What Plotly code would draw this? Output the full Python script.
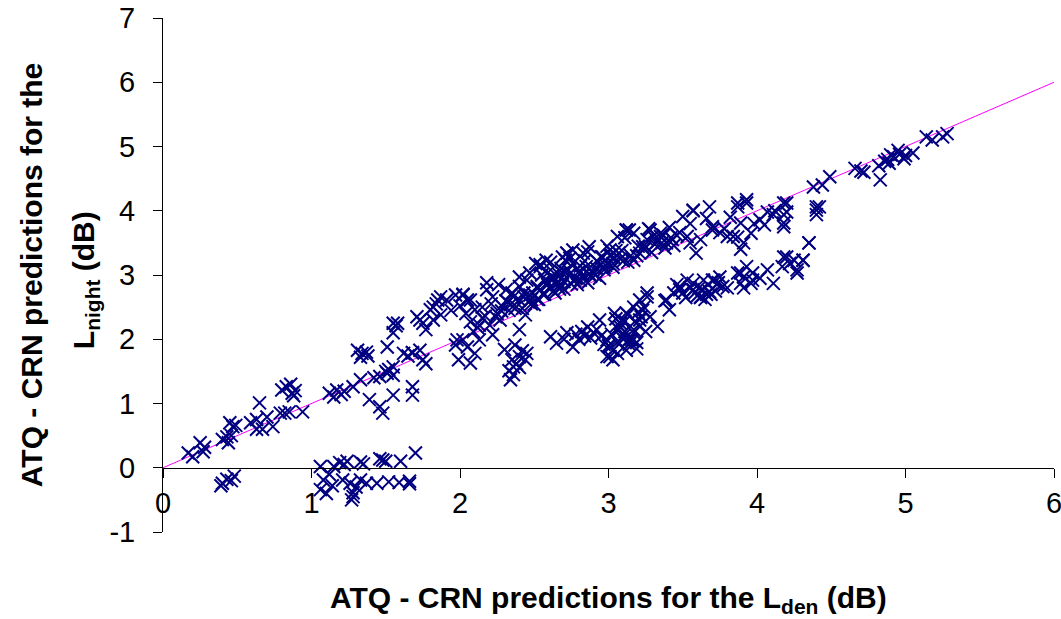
import plotly.graph_objects as go

# ---- data (Lden difference, Lnight difference) ----
ldn_low = [0.17, 0.20, 0.25, 0.27, 0.28, 0.40, 0.43, 0.45, 0.44, 0.47, 0.46, 0.49, 0.59, 0.63,
           0.65, 0.63, 0.70, 0.74, 0.67, 0.80, 0.83, 0.87, 0.89, 0.88, 0.82, 0.85, 0.94, 0.79, 0.86]
lnight_low = [0.23, 0.17, 0.39, 0.25, 0.32, 0.44, 0.48, 0.70, 0.39, 0.64, 0.50, 0.66, 0.70, 0.75,
              1.01, 0.60, 0.79, 0.64, 0.60, 1.21, 1.26, 1.16, 1.20, 1.12, 0.85, 0.87, 0.87, 0.85, 1.30]

ldn_neg = [0.40, 0.48, 0.46, 0.43, 0.39,
           1.06, 1.08, 1.06, 1.15, 1.19, 1.24, 1.21, 1.26, 1.28, 1.33, 1.35, 1.33, 1.37, 1.48,
           1.50, 1.44, 1.52, 1.60, 1.59, 1.66, 1.70, 1.66, 1.28, 1.27, 1.10, 1.46, 1.12, 1.30,
           1.22, 1.14]
lnight_neg = [-0.24, -0.13, -0.20, -0.18, -0.28,
              0.02, -0.19, -0.34, 0.02, 0.08, 0.10, -0.19, -0.24, -0.39, 0.09, 0.06, -0.19, -0.24, 0.12,
              0.10, -0.24, -0.22, 0.10, -0.23, -0.21, 0.23, -0.25, -0.45, -0.50, -0.40, 0.14, -0.10, -0.30,
              0.05, -0.28]

ldn_mid = [1.12, 1.17, 1.20, 1.15, 1.22, 1.28, 1.33, 1.31, 1.34, 1.37, 1.33, 1.38, 1.39, 1.46,
           1.48, 1.55, 1.68, 1.68, 1.42, 1.46, 1.51, 1.55, 1.52, 1.55, 1.57, 1.51, 1.62, 1.65,
           1.68, 1.73, 1.75, 1.77, 1.71, 1.75, 1.77, 1.80, 1.84, 1.82, 1.58, 1.55, 1.55, 1.50,
           1.73, 1.68]
lnight_mid = [1.16, 1.21, 1.14, 1.10, 1.19, 1.26, 1.37, 1.83, 1.78, 1.80, 1.72, 1.74, 1.06, 0.95,
              0.85, 1.13, 1.26, 1.13, 1.40, 1.42, 1.47, 1.44, 1.53, 2.25, 2.21, 1.88, 1.78, 1.74,
              1.79, 1.83, 1.68, 1.62, 2.35, 2.25, 2.15, 2.46, 2.55, 2.30, 2.25, 2.10, 1.57, 1.50,
              2.30, 1.79]

ldn_up = [1.99, 2.07, 1.97, 2.02, 1.87, 1.91, 1.97, 2.02, 2.07, 2.10, 2.15, 2.20, 2.22, 2.13,
          2.27, 2.34, 2.40, 2.30, 2.37, 2.44, 2.36, 2.40, 2.34, 2.13, 2.07, 2.18, 2.26, 2.47,
          2.54, 2.50, 2.57, 2.61, 2.54, 2.67, 2.71, 2.44, 2.40, 1.85, 1.98, 2.05, 2.10, 1.87,
          1.82, 2.05, 2.02, 2.15, 2.22, 2.31, 2.36, 2.40, 2.45, 2.51, 2.55, 2.58, 2.69, 2.72,
          2.76, 2.81, 2.85, 2.90, 3.01, 3.03, 3.17, 3.21, 3.25, 3.30, 3.36, 3.12, 3.50, 3.57,
          3.68, 3.70, 3.55, 3.59, 3.87, 3.93, 3.87, 3.96, 3.80, 3.91, 3.98, 3.14, 3.06, 3.28,
          3.35, 3.39, 3.23, 3.02, 2.96, 2.87, 2.83, 2.76, 2.72, 2.69, 2.58, 2.54, 2.47, 2.40,
          2.18, 3.57, 3.55, 3.53, 3.70, 3.87, 3.93, 3.89, 3.84, 3.89, 4.02, 4.07, 4.11, 4.18,
          4.18, 4.20, 4.40, 4.40, 3.32, 3.17, 3.12, 3.01, 3.07, 2.99, 3.35, 4.42, 4.20, 4.18,
          2.62, 2.65, 2.68, 2.78, 2.80, 2.93, 2.97, 2.64, 2.48, 2.33, 2.25, 2.60, 2.75, 2.88,
          3.10, 3.44, 3.62, 3.78, 2.09, 2.24, 2.52, 2.70, 2.92, 3.05, 2.42, 2.56, 2.83, 2.66,
          1.94, 2.00, 2.04, 2.12, 2.17, 2.21, 2.28, 2.32, 2.38, 2.43, 2.49, 2.53, 2.59, 2.63,
          2.66, 2.70, 2.74, 2.79, 2.82, 2.86, 2.89, 2.94, 2.98, 3.03, 3.08, 3.13, 3.19, 3.24,
          3.29, 3.33, 3.38, 3.42, 2.56, 2.62, 2.68, 2.73, 2.78, 2.84, 2.91, 2.95, 2.28, 2.35,
          2.46, 2.52, 3.46, 3.66, 3.75, 3.82, 4.05, 4.12]
lnight_up = [1.68, 1.63, 1.91, 1.99, 2.38, 2.61, 2.69, 2.69, 2.61, 2.46, 2.33, 2.22, 2.07, 1.99,
             2.30, 2.54, 2.61, 1.84, 1.91, 1.68, 1.45, 1.56, 1.37, 2.22, 2.27, 2.77, 2.85, 2.69,
             2.77, 2.54, 2.92, 3.08, 3.16, 3.00, 3.23, 2.38, 2.15, 2.61, 1.99, 1.88, 1.78, 2.66,
             2.50, 2.61, 2.70, 2.50, 2.66, 2.77, 2.66, 2.82, 2.92, 3.18, 3.00, 2.92, 3.03, 3.34,
             3.18, 2.92, 3.13, 3.03, 3.30, 3.18, 3.23, 3.34, 3.44, 3.60, 3.50, 3.70, 3.91, 4.01,
             4.06, 3.75, 3.50, 3.34, 4.06, 4.17, 3.59, 3.65, 3.60, 3.50, 3.80, 3.70, 3.60, 3.70,
             3.60, 3.50, 3.44, 3.31, 3.28, 3.44, 3.34, 3.39, 3.34, 3.28, 3.23, 3.13, 3.03, 2.97,
             2.88, 4.00, 3.80, 3.60, 3.70, 4.12, 4.12, 3.81, 3.60, 3.40, 3.86, 3.98, 3.94, 4.12,
             3.81, 3.98, 4.06, 3.94, 3.50, 3.65, 3.70, 3.39, 3.34, 3.18, 3.65, 4.06, 4.12, 3.94,
             2.95, 2.85, 3.10, 2.95, 3.05, 3.20, 3.12, 2.72, 2.55, 2.45, 2.40, 2.80, 2.86, 2.98,
             3.22, 3.46, 3.55, 3.72, 2.12, 2.35, 2.62, 2.90, 3.10, 3.38, 2.48, 2.70, 3.00, 2.82,
             2.45, 2.52, 2.40, 2.18, 2.36, 2.55, 2.44, 2.58, 2.50, 2.66, 2.72, 2.62, 2.85, 2.75,
             2.90, 2.78, 3.02, 2.85, 2.98, 2.88, 3.06, 2.95, 3.15, 3.12, 3.25, 3.20, 3.30, 3.40,
             3.35, 3.52, 3.42, 3.58, 2.70, 2.98, 2.82, 3.08, 2.95, 3.22, 3.00, 3.28, 2.52, 2.72,
             2.58, 2.80, 3.62, 3.88, 3.66, 3.90, 3.78, 4.00]

ldn_dense = [2.31, 2.37, 2.43, 2.48, 2.52, 2.57, 2.63, 2.67, 2.71, 2.77, 2.81, 2.87, 2.92,
             2.97, 3.04, 3.09, 3.15, 3.20, 3.26, 3.31, 3.37, 3.43, 3.48, 2.61, 2.74, 2.86,
             2.99, 3.11, 3.27, 3.41]
lnight_dense = [2.60, 2.48, 2.72, 2.62, 2.82, 2.70, 2.95, 2.78, 3.05, 2.92, 3.14, 3.02, 3.22,
                3.08, 3.26, 3.38, 3.30, 3.45, 3.55, 3.48, 3.62, 3.55, 3.66, 3.20, 3.26, 3.36,
                3.45, 3.58, 3.72, 3.74]

ldn_band2 = [2.36, 2.33, 2.40, 2.45, 2.61, 2.65, 2.72, 2.76, 2.80, 2.86, 2.90, 2.94, 2.99, 3.03,
             3.01, 3.08, 3.12, 3.17, 3.21, 3.26, 3.21, 3.17, 3.10, 3.07, 3.04, 3.39, 3.44, 3.48,
             3.53, 3.57, 3.64, 3.71, 3.75, 3.69, 3.62, 3.89, 3.93, 3.97, 3.91, 3.01, 2.99, 3.03,
             3.12, 3.17, 3.21, 3.26, 3.23, 3.09, 3.05, 3.41, 3.38, 3.48, 3.57, 3.61, 3.70, 3.66,
             3.87, 3.91, 3.89, 3.96, 3.97, 4.07, 4.11, 4.18, 4.22, 4.27, 4.31, 4.35, 4.35, 4.31,
             4.25, 4.20, 4.17, 4.27, 4.18, 2.95, 3.00, 3.14, 3.19, 2.84, 2.70, 3.28, 3.33, 3.52,
             3.80, 4.02,
             2.38, 2.42, 2.35, 3.06, 3.10, 3.14, 3.18, 3.22, 3.11, 3.15, 3.08, 3.24, 3.13, 3.19,
             3.58, 3.63, 3.67, 3.72, 3.77, 3.60, 3.74, 3.65, 2.82, 2.88, 2.78, 2.92,
             2.97, 3.02, 3.06, 3.11, 3.16, 3.05, 3.20, 3.25, 3.55, 3.62, 3.68, 3.73, 3.50, 3.46]
lnight_band2 = [1.57, 1.51, 1.73, 1.78, 2.04, 1.94, 2.10, 1.88, 2.00, 2.19, 2.10, 2.30, 1.99, 1.83,
                1.73, 2.19, 2.41, 2.50, 2.61, 2.72, 2.30, 2.10, 2.00, 2.15, 2.40, 2.61, 2.72, 2.82,
                2.92, 2.77, 2.92, 2.92, 2.97, 2.70, 2.66, 3.03, 3.13, 2.92, 2.80, 1.88, 1.73, 1.68,
                1.83, 2.15, 2.20, 2.66, 2.45, 2.30, 2.20, 2.46, 2.60, 2.77, 2.87, 2.80, 2.92, 2.70,
                3.03, 2.97, 2.87, 2.87, 3.03, 3.08, 2.87, 3.28, 3.18, 3.08, 3.23, 3.50, 3.50, 3.23,
                3.23, 3.28, 3.13, 3.03, 3.75, 2.05, 1.90, 2.00, 1.95, 2.05, 2.00, 2.35, 2.20, 2.65,
                2.80, 2.95,
                1.62, 1.82, 1.68, 1.95, 2.05, 1.92, 2.28, 2.35, 2.12, 2.00, 2.25, 2.50, 2.38, 1.85,
                2.72, 2.78, 2.85, 2.75, 2.82, 2.68, 2.88, 2.62, 2.12, 2.02, 2.08, 2.15,
                1.92, 2.08, 1.78, 2.28, 1.98, 2.32, 2.42, 2.12, 2.80, 2.65, 2.74, 2.86, 2.72, 2.85]

ldn_top = [4.38, 4.44, 4.49, 4.40, 4.66, 4.70, 4.83, 4.82, 4.89, 4.92, 4.95, 4.99, 5.05, 4.90,
           4.86, 5.14, 5.18, 5.28, 5.25, 4.72, 4.88, 4.96, 5.00]
lnight_top = [4.37, 4.40, 4.53, 4.01, 4.66, 4.62, 4.48, 4.70, 4.74, 4.84, 4.94, 4.81, 4.90, 4.87,
              4.77, 5.15, 5.10, 5.20, 5.15, 4.60, 4.80, 4.88, 4.86]

ldn = ldn_low + ldn_neg + ldn_mid + ldn_up + ldn_dense + ldn_band2 + ldn_top
lnight = lnight_low + lnight_neg + lnight_mid + lnight_up + lnight_dense + lnight_band2 + lnight_top

line_x = [0, 6]
line_y = [0, 6]

x_ticks = [0, 1, 2, 3, 4, 5, 6]
y_ticks = [-1, 0, 1, 2, 3, 4, 5, 6, 7]

FONT = "Arial, Liberation Sans, sans-serif"
FS = 29
FT = 30

fig = go.Figure()
fig.add_trace(go.Scatter(
    x=line_x, y=line_y, mode="lines",
    line=dict(color="#FF00FF", width=1), hoverinfo="skip", showlegend=False))
fig.add_trace(go.Scatter(
    x=ldn, y=lnight, mode="markers",
    marker=dict(symbol="x-thin", size=13, line=dict(color="#000080", width=2), color="#000080"),
    showlegend=False, cliponaxis=False))

fig.update_layout(
    width=1061, height=619,
    margin=dict(l=163, r=7, t=18, b=87),
    paper_bgcolor="white", plot_bgcolor="white",
    font=dict(family=FONT, size=FS, color="black"),
    xaxis=dict(range=[0, 6], tickvals=x_ticks, ticktext=[str(v) for v in x_ticks],
               showline=True, linecolor="black", linewidth=1, ticks="outside", ticklen=9,
               tickcolor="black", showgrid=False, zeroline=False, ticklabeloverflow="allow",
               automargin=False,
               anchor="free", position=0.125, tickfont=dict(size=FS, family=FONT)),
    yaxis=dict(range=[-1, 7], tickvals=y_ticks, ticktext=[str(v) for v in y_ticks],
               showline=True, linecolor="black", linewidth=1, ticks="outside", ticklen=9,
               tickcolor="black", showgrid=False, zeroline=False, ticklabelstandoff=12,
               automargin=False,
               tickfont=dict(size=FS, family=FONT)),
    annotations=[
        dict(text="<b>ATQ - CRN predictions for the L<sub>den</sub> (dB)</b>",
             xref="paper", yref="paper", x=0.5, y=-0.132, xanchor="center", yanchor="middle",
             showarrow=False, font=dict(size=FT, family=FONT)),
        dict(text="<b>ATQ - CRN predictions for the</b>",
             xref="paper", yref="paper", x=-0.148, y=0.5, xanchor="center", yanchor="middle",
             textangle=-90, showarrow=False, font=dict(size=FT, family=FONT)),
        dict(text="<b>L<sub>night</sub> (dB)</b>",
             xref="paper", yref="paper", x=-0.0875, y=0.49, xanchor="center", yanchor="middle",
             textangle=-90, showarrow=False, font=dict(size=FT, family=FONT)),
    ],
)

fig.write_html("out.html")
